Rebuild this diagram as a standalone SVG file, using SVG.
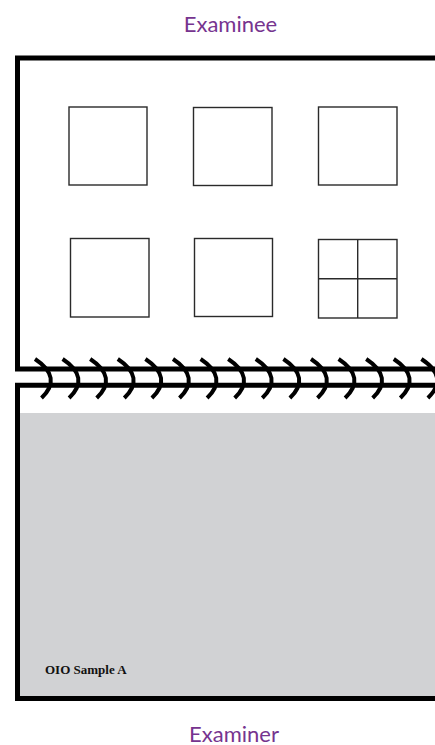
<svg xmlns="http://www.w3.org/2000/svg" xmlns:xlink="http://www.w3.org/1999/xlink" width="435" height="745" viewBox="0 0 435 745">
  <style>
    .frame { fill: none; stroke: #000; stroke-width: 5; }
    .box { fill: #fff; stroke: #2a2a2a; stroke-width: 1.4; }
    .coil { fill: none; stroke: #000; stroke-width: 4; }
    .label { font-family: Lato, "Open Sans", sans-serif; font-size: 22px; fill: #76348f; text-anchor: middle; }
    .sample { font-family: "Liberation Serif", serif; font-weight: bold; font-size: 13px; fill: #111; }
  </style>
  <defs>
    <path id="coil" class="coil" d="M0,359 Q28,377.5 6.5,398"/>
  </defs>
  <rect width="435" height="745" fill="#fff"/>

  <g id="examinee-label">
    <text class="label" x="230.5" y="31.5">Examinee</text>
  </g>

  <g id="examinee-page">
    <polyline class="frame" points="435,58 17.5,58 17.5,369 435,369"/>
  </g>

  <g id="card-1"><rect class="box" x="69" y="107" width="78" height="78"/></g>
  <g id="card-2"><rect class="box" x="193.5" y="107.5" width="78.5" height="78"/></g>
  <g id="card-3"><rect class="box" x="318.5" y="107" width="78.5" height="78"/></g>
  <g id="card-4"><rect class="box" x="70.5" y="238.5" width="78.5" height="78.5"/></g>
  <g id="card-5"><rect class="box" x="194.5" y="238.5" width="78" height="78"/></g>
  <g id="card-6">
    <rect class="box" x="318.5" y="239.5" width="78.5" height="78.5"/>
    <line x1="357.7" y1="239.5" x2="357.7" y2="318" stroke="#2a2a2a" stroke-width="1.4"/>
    <line x1="318.5" y1="278.7" x2="397" y2="278.7" stroke="#2a2a2a" stroke-width="1.4"/>
  </g>

  <g id="examiner-page">
    <rect x="20" y="413" width="415" height="283" fill="#d1d2d4"/>
    <polyline class="frame" points="435,385.2 17.5,385.2 17.5,698.5 435,698.5"/>
    <text class="sample" x="45" y="673.5">OIO Sample A</text>
  </g>

  <g id="binding">
    <use xlink:href="#coil" x="35"/>
    <use xlink:href="#coil" x="62.6"/>
    <use xlink:href="#coil" x="90.2"/>
    <use xlink:href="#coil" x="117.8"/>
    <use xlink:href="#coil" x="145.4"/>
    <use xlink:href="#coil" x="173"/>
    <use xlink:href="#coil" x="200.6"/>
    <use xlink:href="#coil" x="228.2"/>
    <use xlink:href="#coil" x="255.8"/>
    <use xlink:href="#coil" x="283.4"/>
    <use xlink:href="#coil" x="311"/>
    <use xlink:href="#coil" x="338.6"/>
    <use xlink:href="#coil" x="366.2"/>
    <use xlink:href="#coil" x="393.8"/>
    <use xlink:href="#coil" x="421.4"/>
  </g>

  <g id="examiner-label">
    <text class="label" x="234" y="741.5">Examiner</text>
  </g>
</svg>
